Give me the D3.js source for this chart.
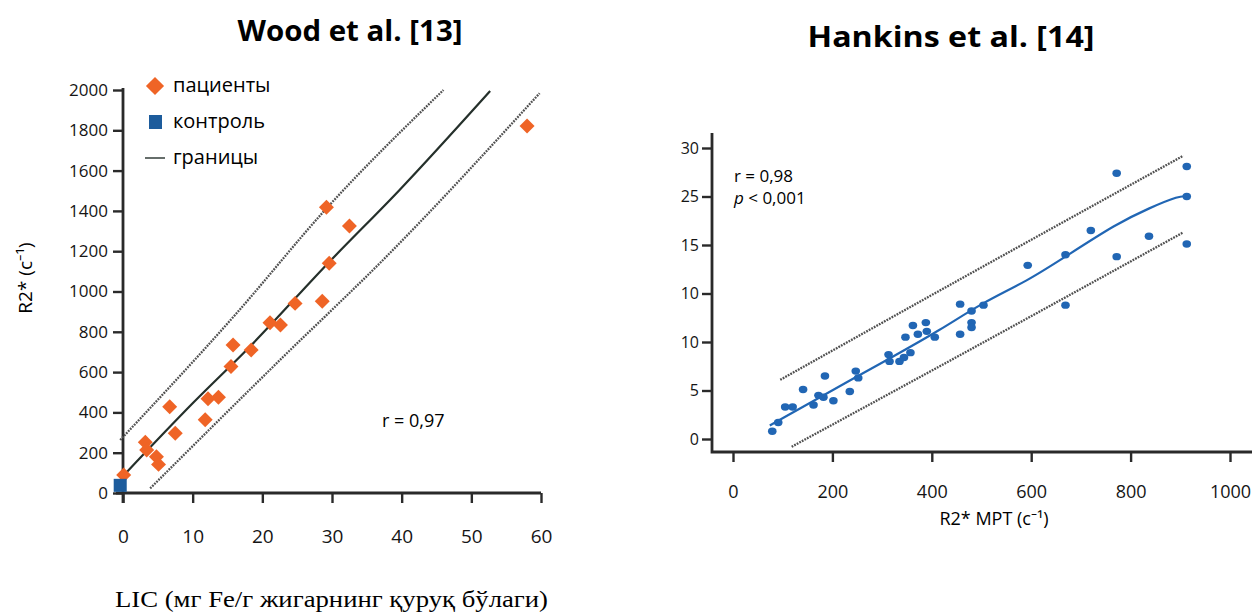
<!DOCTYPE html>
<html>
<head>
<meta charset="utf-8">
<script src="https://cdn.jsdelivr.net/npm/d3@7"></script>
<style>
    body { margin: 0; background: #fff; }
    svg { display: block; font-family: "Open Sans", "Noto Sans", sans-serif; }
</style>
</head>
<body>
<div id="vis"></div>
<script>
// ---- data ----
// Wood et al.: LIC (mg Fe/g) vs R2* (1/s)
const woodPatients = [
    [0.1, 89], [3.2, 252], [3.4, 213], [4.8, 180], [5.1, 142], [6.7, 428], [7.5, 296],
    [11.8, 364], [12.2, 468], [13.7, 475], [15.5, 628], [15.8, 734], [18.4, 710],
    [21.1, 845], [22.6, 834], [24.7, 941], [28.6, 952], [29.2, 1418], [29.6, 1140],
    [32.5, 1325], [58.0, 1821]
];
const woodControls = [[-0.4, 38]];
const woodFit = [[0.3, 95], [10, 445], [18.2, 726], [29.7, 1150], [39.7, 1504], [52.7, 1995]];
const woodUpper = [[-0.4, 263], [16.3, 892], [29.2, 1412], [46.0, 2000]];
const woodLower = [[3.9, 23], [23.0, 676], [37.8, 1173], [59.8, 1984]];
const woodXTicks = [0, 10, 20, 30, 40, 50, 60];
const woodYTicks = [0, 200, 400, 600, 800, 1000, 1200, 1400, 1600, 1800, 2000];
const woodLegend = ["пациенты", "контроль", "границы"];

// Hankins et al.: R2* MRI vs LIC
const hankinsPoints = [
    [79, 0.8], [91, 1.7], [105, 3.3], [120, 3.3], [141, 5.1], [162, 3.5], [172, 4.5],
    [182, 4.3], [185, 6.5], [202, 3.95], [235, 4.9], [247, 7.0], [252, 6.3], [313, 8.7],
    [315, 8.0], [335, 8.0], [344, 8.4], [357, 8.9], [347, 10.5], [362, 11.7], [372, 10.8],
    [388, 12.0], [390, 11.1], [406, 10.5], [457, 13.9], [457, 10.8], [480, 13.2],
    [480, 12.0], [480, 11.5], [504, 13.8], [593, 17.9], [669, 19.0], [669, 13.8],
    [720, 21.5], [772, 27.4], [772, 18.8], [837, 20.9], [913, 28.1], [913, 25.0], [913, 20.1]
];
const hankinsFit = [[74, 1.4], [255, 6.6], [322, 8.5], [416, 11.2], [503, 14.1], [593, 16.3],
    [669, 18.8], [772, 22.2], [837, 23.8], [899, 25.1], [913, 25.0]];
const hankinsUpper = [[95, 6.1], [416, 15.3], [906, 29.2]];
const hankinsLower = [[118, -0.8], [416, 7.5], [906, 21.3]];
const hankinsXTicks = [0, 200, 400, 600, 800, 1000];
const hankinsYTicks = [0, 5, 10, 15, 20, 25, 30];
const hankinsYTickLabels = ["0", "5", "10", "10", "15", "25", "30"];

const W = 1255, H = 615;
const ORANGE = "#ef6426", BLUE_SQ = "#1d5c9c", BLUE = "#2166b4", AXIS = "#2a2a2a";

const svg = d3.select("#vis").append("svg")
    .attr("width", W)
    .attr("height", H)
;

function styleAxis(g, fontSize){
    g.select(".domain").remove();
    g.selectAll(".tick line").attr("stroke", AXIS).attr("stroke-width", 2.4);
    g.selectAll(".tick text")
        .style("font-family", "'Open Sans', sans-serif")
        .style("font-size", fontSize + "px")
        .attr("fill", "#151515");
}

function dotted(g, data, line){
    g.append("path")
        .datum(data)
        .attr("d", line)
        .attr("fill", "none")
        .attr("stroke", "#505050")
        .attr("stroke-width", 2.3)
        .attr("stroke-dasharray", "1.8,1.1");
}

// ================= Wood et al. =================
{
    const x = d3.scaleLinear().domain([0, 60]).range([123, 541]);
    const y = d3.scaleLinear().domain([0, 2000]).range([493, 90]);
    const g = svg.append("g");
    const line = d3.line().x(d => x(d[0])).y(d => y(d[1])).curve(d3.curveMonotoneX);

    g.append("text")
        .attr("x", 350).attr("y", 41)
        .attr("text-anchor", "middle")
        .attr("font-size", 29).attr("font-weight", 700)
        .attr("textLength", 225).attr("lengthAdjust", "spacingAndGlyphs")
        .text("Wood et al. [13]");

    // axes
    const yAxis = g.append("g")
        .attr("transform", `translate(${x(0)},0)`)
        .call(d3.axisLeft(y).tickValues(woodYTicks).tickSize(10).tickPadding(5).tickFormat(d3.format("d")));
    styleAxis(yAxis, 17);

    const xAxis = g.append("g")
        .attr("transform", `translate(0,${y(0)})`)
        .call(d3.axisBottom(x).tickValues(woodXTicks).tickSize(10).tickPadding(27));
    styleAxis(xAxis, 19);

    g.append("path")
        .attr("d", `M${x(0)},${y(2000) - 2}V${y(0) + 10}M${x(0) - 7},${y(0)}H${x(60)}`)
        .attr("fill", "none").attr("stroke", AXIS).attr("stroke-width", 2.8);

    g.append("text")
        .attr("transform", `translate(32,278) rotate(-90)`)
        .attr("text-anchor", "middle")
        .attr("font-size", 19)
        .text("R2* (с⁻¹)");

    // bands + fit
    dotted(g, woodUpper, line);
    dotted(g, woodLower, line);
    g.append("path")
        .datum(woodFit)
        .attr("d", line)
        .attr("fill", "none")
        .attr("stroke", "#25302b")
        .attr("stroke-width", 2.2);

    const diamond = d3.symbol().type(d3.symbolSquare).size(112);
    g.selectAll(".pat")
        .data(woodPatients)
        .join("path")
        .attr("class", "pat")
        .attr("d", diamond)
        .attr("transform", d => `translate(${x(d[0])},${y(d[1])}) rotate(45)`)
        .attr("fill", ORANGE);

    g.selectAll(".ctl")
        .data(woodControls)
        .join("path")
        .attr("class", "ctl")
        .attr("d", d3.symbol().type(d3.symbolSquare).size(170))
        .attr("transform", d => `translate(${x(d[0])},${y(d[1])})`)
        .attr("fill", BLUE_SQ);

    g.append("text")
        .attr("x", 382).attr("y", 427)
        .attr("font-size", 18)
        .text("r = 0,97");

    // legend
    const leg = g.append("g");
    const legY = [86, 122, 158];
    leg.append("path")
        .attr("d", d3.symbol().type(d3.symbolSquare).size(165))
        .attr("transform", `translate(155,${legY[0]}) rotate(45)`)
        .attr("fill", ORANGE);
    leg.append("rect")
        .attr("x", 149).attr("y", legY[1] - 7).attr("width", 13).attr("height", 14)
        .attr("fill", BLUE_SQ);
    leg.append("line")
        .attr("x1", 145).attr("x2", 165).attr("y1", legY[2]).attr("y2", legY[2])
        .attr("stroke", "#25302b").attr("stroke-width", 1.4);
    leg.selectAll("text")
        .data(woodLegend)
        .join("text")
        .attr("x", 173)
        .attr("y", (d, i) => legY[i] + 6)
        .attr("font-size", 20)
        .text(d => d);
}

// ================= Hankins et al. =================
{
    const x = d3.scaleLinear().domain([0, 1000]).range([733, 1230]);
    const y = d3.scaleLinear().domain([0, 30]).range([439, 148]);
    const g = svg.append("g");
    const line = d3.line().x(d => x(d[0])).y(d => y(d[1])).curve(d3.curveMonotoneX);
    const axisX = 712, axisY = 452;

    g.append("text")
        .attr("x", 951).attr("y", 47)
        .attr("text-anchor", "middle")
        .attr("font-size", 29).attr("font-weight", 700)
        .attr("textLength", 287).attr("lengthAdjust", "spacingAndGlyphs")
        .text("Hankins et al. [14]");

    const yAxis = g.append("g")
        .attr("transform", `translate(${axisX},0)`)
        .call(d3.axisLeft(y).tickValues(hankinsYTicks).tickSize(10).tickPadding(3)
            .tickFormat((d, i) => hankinsYTickLabels[i]));
    styleAxis(yAxis, 16);

    const xAxis = g.append("g")
        .attr("transform", `translate(0,${axisY})`)
        .call(d3.axisBottom(x).tickValues(hankinsXTicks).tickSize(10).tickPadding(23).tickFormat(d3.format("d")));
    styleAxis(xAxis, 18);

    g.append("path")
        .attr("d", `M${axisX},133V${axisY}H1252`)
        .attr("fill", "none").attr("stroke", AXIS).attr("stroke-width", 2.8);

    g.append("text")
        .attr("x", 994).attr("y", 525)
        .attr("text-anchor", "middle")
        .attr("font-size", 18)
        .text("R2* MPT (с⁻¹)");

    dotted(g, hankinsUpper, line);
    dotted(g, hankinsLower, line);
    g.append("path")
        .datum(hankinsFit)
        .attr("d", d3.line().x(d => x(d[0])).y(d => y(d[1])).curve(d3.curveBasis))
        .attr("fill", "none")
        .attr("stroke", BLUE)
        .attr("stroke-width", 2.2);

    g.selectAll("ellipse")
        .data(hankinsPoints)
        .join("ellipse")
        .attr("cx", d => x(d[0]))
        .attr("cy", d => y(d[1]))
        .attr("rx", 4.3).attr("ry", 3.7)
        .attr("fill", BLUE);

    g.append("text")
        .attr("x", 734).attr("y", 182)
        .attr("font-size", 17)
        .text("r = 0,98");
    const p = g.append("text")
        .attr("x", 734).attr("y", 204)
        .attr("font-size", 17);
    p.append("tspan").attr("font-style", "italic").text("p");
    p.append("tspan").text(" < 0,001");
}

// caption under the figure
svg.append("text")
    .attr("x", 115).attr("y", 607)
    .style("font-family", "'Liberation Serif', 'Times New Roman', serif")
    .attr("font-size", 24)
    .attr("textLength", 433).attr("lengthAdjust", "spacingAndGlyphs")
    .text("LIC (мг Fe/г жигарнинг қуруқ бўлаги)");
</script>
</body>
</html>
